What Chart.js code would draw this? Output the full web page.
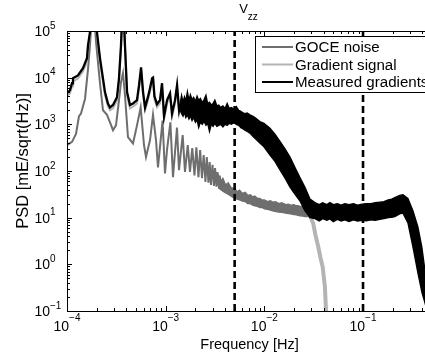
<!DOCTYPE html>
<html><head><meta charset="utf-8">
<script src="https://cdn.jsdelivr.net/npm/chart.js@4/dist/chart.umd.min.js"></script>
<style>html,body{margin:0;padding:0;overflow:hidden;background:#fff;width:425px;height:358px}canvas{display:block}</style>
</head><body><canvas id="c" width="445" height="358"></canvas>
<script>
const titleMain = 'V', titleSub = 'zz';
const xTitle = 'Frequency [Hz]';
const yTitle = 'PSD [mE/sqrt(Hz)]';
const seriesNames = ['GOCE noise', 'Gradient signal', 'Measured gradients'];
const seriesColors = ['#6e6e6e', '#b4b4b4', '#000000'];
const xTicks = [1e-4, 1e-3, 1e-2, 1e-1];
const xTickExp = ['\u22124', '\u22123', '\u22122', '\u22121'];
const yTicks = [1e-1, 1, 10, 100, 1e3, 1e4, 1e5];
const yTickExp = ['\u22121', '0', '1', '2', '3', '4', '5'];
const xRange = [1e-4, 0.5];
const yRange = [1e-1, 1e5];
const cutoffFreqs = [5e-3, 1e-1];

// GOCE noise: orbital harmonic comb (low frequencies)
const noiseFreq = [1.000e-4,1.124e-4,1.234e-4,1.323e-4,1.386e-4,1.522e-4,1.632e-4,1.710e-4,1.834e-4,1.967e-4,2.160e-4,2.316e-4,2.543e-4,2.727e-4,2.925e-4,3.137e-4,3.364e-4,3.525e-4,3.693e-4,3.869e-4,4.150e-4,4.665e-4,5.120e-4,5.58e-4,6.03e-4,6.32e-4,6.94e-4,7.44e-4,7.98e-4,8.36e-4,9.30e-4,9.84e-4,1.031e-3,1.116e-3,1.186e-3,1.302e-3,1.364e-3,1.487e-3,1.569e-3,1.674e-3,1.763e-3,1.860e-3,1.958e-3,2.046e-3,2.149e-3,2.236e-3,2.333e-3,2.427e-3,2.530e-3,2.609e-3,2.714e-3,2.791e-3,2.877e-3,2.980e-3,3.086e-3,3.166e-3,3.272e-3,3.349e-3,3.467e-3,3.533e-3,3.633e-3];
const noiseVal = [360,420,620,1500,1700,3500,15000,50000,500000,60000,7600,2000,1600,1100,750,950,3300,8000,12500,4200,530,390,950,2300,360,200,460,1600,460,120,1200,89,280,1100,74,850,104,590,96,360,96,310,80,320,74,280,70,220,58,200,56,155,50,135,48,115,46,95,44,80,42];
// GOCE noise: band envelope (higher frequencies)
const noiseBandFreq = [3.4e-3,3.6e-3,3.8e-3,4.05e-3,4.3e-3,4.6e-3,5.0e-3,5.3e-3,5.6e-3,6.0e-3,6.4e-3,6.8e-3,7.2e-3,7.6e-3,8.0e-3,8.5e-3,9.0e-3,9.5e-3,1.0e-2,1.08e-2,1.15e-2,1.22e-2,1.3e-2,1.4e-2,1.5e-2,1.65e-2,1.75e-2,1.85e-2,2.0e-2,2.1e-2,2.2e-2,2.3e-2,2.45e-2,2.6e-2,2.75e-2,2.9e-2,3.3e-2];
const noiseBandTop = [85,60,70,50,56,44,42,36,39,33,35,30,31,28,29,26,26,24,24,22,23,21.5,22,20,21,19,19.5,18.5,19,18,18,17.5,17.5,17,17,16.5,16];
const noiseBandLow = [44,40,37,34,32,29,26,25,24,22.5,22,20,20,18.5,18,17.5,16.5,16.5,15.5,15,14.5,14,13.5,13.2,13,12.5,12.2,12,11.6,11.5,11.2,11,10.8,10.5,10.5,10.5,10];

// Measured gradients: low-frequency line
const measFreq = [1.000e-4,1.072e-4,1.124e-4,1.150e-4,1.292e-4,1.452e-4,1.594e-4,1.632e-4,1.710e-4,1.834e-4,2.013e-4,2.160e-4,2.426e-4,2.600e-4,2.727e-4,2.925e-4,3.210e-4,3.364e-4,3.525e-4,3.693e-4,3.869e-4,4.060e-4,4.350e-4,4.665e-4,5.120e-4,5.370e-4,5.63e-4,5.90e-4,6.18e-4,6.48e-4,6.80e-4,7.29e-4,7.45e-4,7.70e-4,8.17e-4,8.76e-4,9.18e-4,9.63e-4,1.033e-3,1.107e-3,1.16e-3,1.244e-3,1.304e-3,1.368e-3,1.42e-3];
const measVal = [4630,5370,7600,9700,11200,15900,26000,49000,94000,600000,94000,26000,4900,2800,2300,2600,3800,9700,49000,600000,49000,4900,2600,2800,3300,6900,16700,4900,2300,3300,4900,9700,10000,4000,2700,3300,7600,1500,3300,4600,1700,3300,6900,2000,2800];
// Measured gradients: noisy band envelope
const measBandFreq = [1.40e-3,1.45e-3,1.50e-3,1.55e-3,1.60e-3,1.66e-3,1.72e-3,1.78e-3,1.85e-3,1.92e-3,2.0e-3,2.08e-3,2.16e-3,2.25e-3,2.35e-3,2.45e-3,2.56e-3,2.66e-3,2.78e-3,2.9e-3,3.02e-3,3.15e-3,3.3e-3,3.45e-3,3.6e-3,3.8e-3,4.0e-3,4.2e-3,4.4e-3,4.65e-3,4.92e-3,5.2e-3,5.5e-3,5.78e-3,6.1e-3,6.36e-3,6.7e-3,7.14e-3,7.6e-3,8.03e-3,9.0e-3,9.91e-3,1.14e-2,1.28e-2,1.44e-2,1.62e-2,1.82e-2,2.04e-2,2.29e-2,2.58e-2,2.9e-2,3.26e-2,3.6e-2,3.9e-2,4.3e-2,4.62e-2,5.0e-2,5.5e-2,6.0e-2,6.54e-2,7.2e-2,8.0e-2,8.8e-2,9.75e-2,0.108,0.12,0.133,0.148,0.163,0.18,0.195,0.21,0.235,0.254,0.285,0.321,0.36,0.395,0.424,0.499];
const measBandTop = [2800,4200,3000,3900,3200,5000,3300,4300,3400,3800,3100,4000,3300,3600,2900,3400,4200,2800,3000,2600,2800,3300,2500,2600,2300,2500,2200,2800,2200,2300,2100,2400,2000,1900,1750,1700,1750,1600,1500,1400,1150,1050,830,620,430,300,200,120,73,45,25,21,19,21,19,21,19,20,18.5,20,19,20,18.5,19.5,20,20,21,21.5,22,24,25,27,30,31,26,14,6.3,2.3,0.75,0.15];
const measBandLow = [2000,1700,1500,1800,1400,1600,1300,1500,1200,1400,1100,1250,850,1100,1000,1150,950,1050,700,1000,900,1050,900,950,1000,880,1000,950,1050,1000,1100,1000,950,850,800,750,700,650,560,500,400,330,220,160,105,70,45,32,23,14,10,9.5,8.5,9.5,8.8,9.4,8.2,9.2,8.5,9,8.3,9,8.4,8.8,8.6,9,8.8,9.2,9.5,10,10.2,10.5,12,12.5,7.7,2.3,0.65,0.25,0.15,0.04];

// Gradient signal: low-frequency part (mostly under the measured curve) and high-frequency tail
const signalFreq = measFreq;
const signalVal = [4000,4600,6500,8300,9600,13600,22000,42000,80000,500000,80000,22000,4200,2400,2000,2200,3200,8300,42000,500000,42000,4200,2200,2400,2800,5900,14000,4200,2000,2800,4200,8300,8500,3400,2300,2800,6500,1300,2800,3900,1450,2800,5900,1700,2400];
const signalTailFreq = [1.42e-3,2e-3,3e-3,5e-3,7e-3,1e-2,1.3e-2,1.6e-2,2e-2,2.4e-2,2.69e-2,2.9e-2,3.13e-2,3.3e-2,3.52e-2,3.7e-2,3.9e-2,4.11e-2,4.21e-2,4.26e-2];
const signalTailVal = [2400,2000,1700,1500,1100,650,350,170,80,35,14.5,11,7.5,4.2,2.37,1.4,0.88,0.33,0.105,0.04];

const pts = (f, v) => f.map((x, i) => ({x, y: v[i]}));
const FONT = "'Liberation Sans', Arial, Helvetica, sans-serif";

const base = {pointRadius: 0, tension: 0, fill: false, clip: 0};
const datasets = [
  ...cutoffFreqs.map(f => ({...base, data: pts([f, f], yRange), borderColor: '#000', borderWidth: 2.6, borderDash: [7, 4], order: 0})),
  {...base, data: pts(measFreq, measVal), borderColor: seriesColors[2], borderWidth: 2.3, order: 1},
  {...base, data: pts(measBandFreq, measBandTop), borderColor: seriesColors[2], borderWidth: 1.3, fill: '+1', backgroundColor: seriesColors[2], order: 1},
  {...base, data: pts(measBandFreq, measBandLow), borderColor: seriesColors[2], borderWidth: 1.3, order: 1},
  {...base, data: pts(signalFreq, signalVal), borderColor: seriesColors[1], borderWidth: 2, order: 2},
  {...base, data: pts(signalTailFreq, signalTailVal), borderColor: seriesColors[1], borderWidth: 4, order: 2},
  {...base, data: pts(noiseFreq, noiseVal), borderColor: seriesColors[0], borderWidth: 2, order: 3},
  {...base, data: pts(noiseBandFreq, noiseBandTop), borderColor: seriesColors[0], borderWidth: 1.3, fill: '+1', backgroundColor: seriesColors[0], order: 3},
  {...base, data: pts(noiseBandFreq, noiseBandLow), borderColor: seriesColors[0], borderWidth: 1.3, order: 3}
];

const decor = {
  id: 'decor',
  afterDraw(chart) {
    const ctx = chart.ctx, a = chart.chartArea, xs = chart.scales.x, ys = chart.scales.y;
    ctx.save();
    ctx.strokeStyle = '#000'; ctx.fillStyle = '#000'; ctx.lineWidth = 1;
    ctx.beginPath();
    for (let d = 1e-4; d <= 1; d *= 10) {
      for (let m = 1; m <= 9; m++) {
        const v = m * d;
        if (v < xRange[0] * 0.999 || v > xRange[1] * 1.001) continue;
        const px = Math.round(xs.getPixelForValue(v)) + 0.5, len = m === 1 ? 5 : 3;
        ctx.moveTo(px, a.bottom); ctx.lineTo(px, a.bottom - len);
        ctx.moveTo(px, a.top); ctx.lineTo(px, a.top + len);
      }
    }
    for (let d = 1e-1; d <= 1e5 * 1.001; d *= 10) {
      for (let m = 1; m <= 9; m++) {
        const v = m * d;
        if (v > yRange[1] * 1.001) continue;
        const py = Math.round(ys.getPixelForValue(v)) + 0.5, len = m === 1 ? 5 : 3;
        ctx.moveTo(a.left, py); ctx.lineTo(a.left + len, py);
        ctx.moveTo(a.right, py); ctx.lineTo(a.right - len, py);
      }
    }
    ctx.stroke();
    ctx.strokeRect(Math.round(a.left) + 0.5, Math.round(a.top) + 0.5, Math.round(a.right - a.left), Math.round(a.bottom - a.top));
    ctx.textBaseline = 'middle';
    xTicks.forEach((v, i) => {
      const px = xs.getPixelForValue(v);
      ctx.font = '14px ' + FONT; const wb = ctx.measureText('10').width;
      ctx.font = '10px ' + FONT; const we = ctx.measureText(xTickExp[i]).width;
      const s = px - (wb + we) / 2;
      ctx.textAlign = 'left';
      ctx.font = '14px ' + FONT; ctx.fillText('10', s, a.bottom + 16);
      ctx.font = '10px ' + FONT; ctx.fillText(xTickExp[i], s + wb, a.bottom + 7);
    });
    yTicks.forEach((v, i) => {
      const py = ys.getPixelForValue(v);
      ctx.font = '14px ' + FONT; ctx.textAlign = 'right'; ctx.fillText('10', a.left - 17, py + 1);
      ctx.font = '10px ' + FONT; ctx.textAlign = 'left'; ctx.fillText(yTickExp[i], a.left - 17, py - 5);
    });
    const cx = (a.left + a.right) / 2, cy = (a.top + a.bottom) / 2;
    ctx.font = '14.5px ' + FONT; ctx.textAlign = 'center';
    ctx.fillText(xTitle, cx, a.bottom + 34);
    ctx.save(); ctx.translate(23, cy - 10); ctx.rotate(-Math.PI / 2);
    ctx.font = '16.5px ' + FONT; ctx.fillText(yTitle, 0, 0); ctx.restore();
    ctx.textAlign = 'left';
    ctx.font = '13px ' + FONT; const wv = ctx.measureText(titleMain).width;
    ctx.font = '10px ' + FONT; const wz = ctx.measureText(titleSub).width;
    const tx = cx - (wv + wz) / 2 - 1;
    ctx.font = '13px ' + FONT; ctx.fillText(titleMain, tx, a.top - 22);
    ctx.font = '10px ' + FONT; ctx.fillText(titleSub, tx + wv, a.top - 14);
    const lx = a.left + 188, ly = a.top + 5, lw = 200, lh = 56;
    ctx.fillStyle = '#fff'; ctx.fillRect(lx, ly, lw, lh);
    ctx.strokeStyle = '#000'; ctx.lineWidth = 1; ctx.strokeRect(lx + 0.5, ly + 0.5, lw, lh);
    ctx.font = '15.1px ' + FONT; ctx.textAlign = 'left'; ctx.fillStyle = '#000';
    seriesNames.forEach((n, i) => {
      const yy = ly + 11 + i * 17.5;
      ctx.strokeStyle = seriesColors[i]; ctx.lineWidth = 2;
      ctx.beginPath(); ctx.moveTo(lx + 7, yy); ctx.lineTo(lx + 38, yy); ctx.stroke();
      ctx.fillText(n, lx + 40, yy + 1);
    });
    ctx.restore();
  }
};

new Chart(document.getElementById('c'), {
  type: 'line',
  data: {datasets},
  options: {
    responsive: false, animation: false, devicePixelRatio: 1,
    layout: {padding: {left: 67, top: 31, right: 13, bottom: 47}},
    scales: {
      x: {type: 'logarithmic', min: xRange[0], max: xRange[1], display: false},
      y: {type: 'logarithmic', min: yRange[0], max: yRange[1], display: false}
    },
    plugins: {legend: {display: false}, tooltip: {enabled: false}, title: {display: false}}
  },
  plugins: [decor]
});
</script></body></html>
